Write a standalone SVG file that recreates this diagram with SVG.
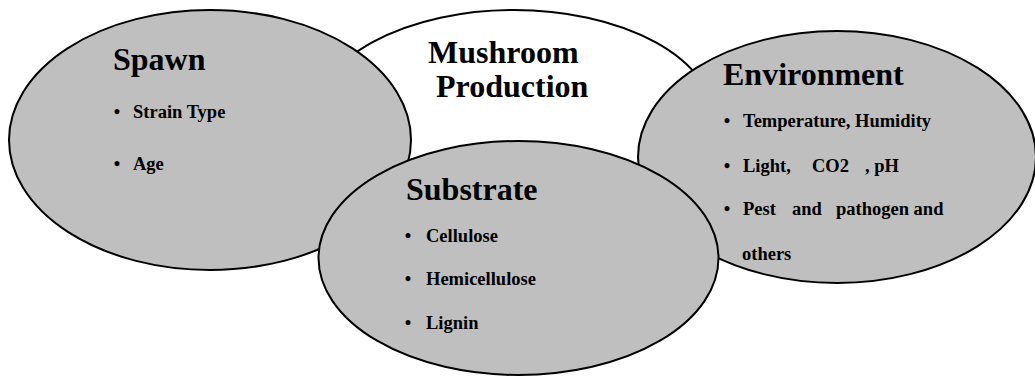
<svg xmlns="http://www.w3.org/2000/svg" width="1035" height="377" viewBox="0 0 1035 377">
<style>
.shape{stroke:#000;stroke-width:2}
.grey{fill:#bfbfbf}
.white{fill:#fff}
.title{font-family:"Liberation Serif","Times New Roman",serif;font-weight:bold;font-size:32px;fill:#000}
.item{font-family:"Liberation Serif","Times New Roman",serif;font-weight:bold;font-size:18.5px;fill:#000;white-space:pre}
.bul{font-family:"Liberation Serif","Times New Roman",serif;font-weight:bold;font-size:18.5px;fill:#000;text-anchor:middle}
</style>
<rect width="1035" height="377" fill="#fff"/>
<g id="production">
<ellipse class="shape white" cx="514" cy="120" rx="200" ry="110"/>
<text class="title" x="428" y="63">Mushroom</text>
<text class="title" x="436" y="97">Production</text>
</g>
<g id="spawn">
<ellipse class="shape grey" cx="210" cy="140" rx="201" ry="130"/>
<text class="title" x="113" y="70">Spawn</text>
<text class="bul" x="117" y="118">•</text>
<text class="item" x="133" y="118">Strain Type</text>
<text class="bul" x="117" y="170">•</text>
<text class="item" x="133" y="170">Age</text>
</g>
<g id="environment">
<ellipse class="shape grey" cx="837" cy="157" rx="199" ry="126"/>
<text class="title" x="723" y="85">Environment</text>
<text class="bul" x="727" y="127">•</text>
<text class="item" x="743" y="127">Temperature, Humidity</text>
<text class="bul" x="727" y="172">•</text>
<text class="item" x="743" y="172">Light,</text>
<text class="item" x="812" y="172">CO2</text>
<text class="item" x="865" y="172">, pH</text>
<text class="bul" x="727" y="215">•</text>
<text class="item" x="743" y="215">Pest</text>
<text class="item" x="792" y="215">and</text>
<text class="item" x="836" y="215">pathogen and</text>
<text class="item" x="742" y="260">others</text>
</g>
<g id="substrate">
<ellipse class="shape grey" cx="518.5" cy="258" rx="200" ry="117"/>
<text class="title" x="406" y="200">Substrate</text>
<text class="bul" x="408" y="242">•</text>
<text class="item" x="426" y="242">Cellulose</text>
<text class="bul" x="408" y="285">•</text>
<text class="item" x="426" y="285">Hemicellulose</text>
<text class="bul" x="408" y="329">•</text>
<text class="item" x="426" y="329">Lignin</text>
</g>
<g id="connectors"/>
</svg>
